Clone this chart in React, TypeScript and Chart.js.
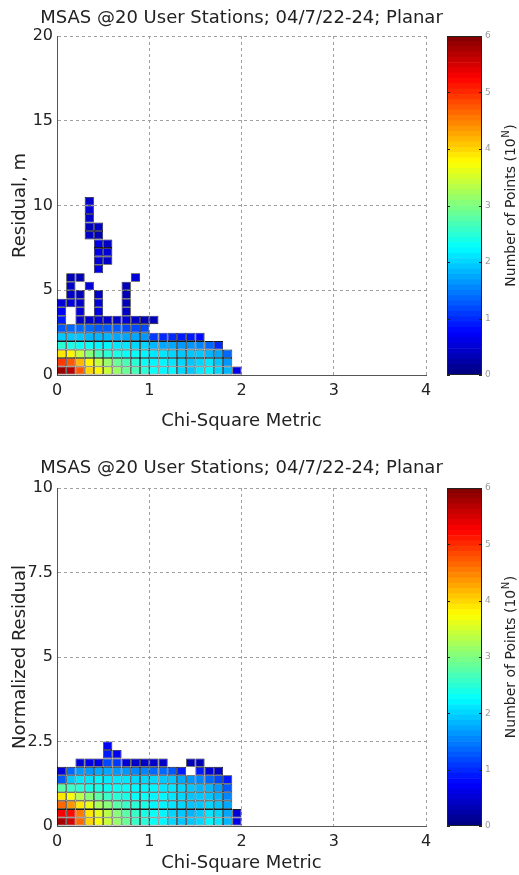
import React, { useEffect, useRef } from "react";
import { Chart, registerables } from "chart.js";

Chart.register(...registerables);

const _ = null;

// ---------- data ----------
const chartTitle = "MSAS @20 User Stations; 04/7/22-24; Planar";
const xAxisLabel = "Chi-Square Metric";
const residualLabel = "Residual, m";
const normResidualLabel = "Normalized Residual";
const colorbarLabel = "Number of Points (10";
const colorbarSup = "N";
const colorbarRange = [0, 6];

const chiSquareEdges = [0, 0.1, 0.2, 0.3, 0.4, 0.5, 0.6, 0.7, 0.8, 0.9, 1.0, 1.1, 1.2, 1.3, 1.4, 1.5, 1.6, 1.7, 1.8, 1.9, 2.0];
const residualEdges = [0, 0.5, 1, 1.5, 2, 2.5, 3, 3.5, 4, 4.5, 5, 5.5, 6, 6.5, 7, 7.5, 8, 8.5, 9, 9.5, 10, 10.5];
const normResidualEdges = [0, 0.25, 0.5, 0.75, 1, 1.25, 1.5, 1.75, 2, 2.25, 2.5];

// log10(count) per cell, rows from bottom (index = residual bin), columns = chi-square bins
const residualCounts: (number | null)[][] = [
  [5.9, 5.7, 4.7, 4.0, 3.8, 3.4, 3.1, 2.9, 2.7, 2.5, 2.3, 2.2, 2.2, 2.0, 1.9, 2.1, 2.2, 2.0, 1.8, 0.6],
  [4.9, 4.7, 4.2, 3.8, 3.4, 3.1, 2.9, 2.7, 2.5, 2.3, 2.2, 2.2, 2.1, 2.0, 1.9, 2.0, 2.1, 1.9, 1.6],
  [3.9, 3.8, 3.4, 3.0, 2.7, 2.5, 2.4, 2.3, 2.3, 2.2, 2.1, 2.1, 2.0, 1.9, 1.9, 1.9, 1.8, 1.7, 1.4],
  [2.5, 2.4, 2.3, 2.3, 2.2, 2.2, 2.1, 2.1, 2.0, 2.0, 1.8, 1.7, 1.7, 1.6, 1.6, 1.5, 1.4, 1.0],
  [1.9, 1.9, 1.9, 1.8, 1.8, 1.8, 1.7, 1.7, 1.7, 1.6, 1.1, 1.0, 1.0, 0.9, 0.9, 0.8],
  [1.3, 1.4, 1.4, 1.4, 1.3, 1.3, 1.3, 1.2, 1.2, 1.2],
  [0.9, _, 0.4, 0.4, 0.5, 0.4, 0.4, 0.5, 0.4, 0.3, 0.3],
  [0.7, _, 0.5, _, 0.6, _, _, 0.4],
  [0.5, 0.5, 0.4, _, 0.5, _, _, 0.3],
  [_, 0.4, 0.3, _, 0.4, _, _, 0.3],
  [_, 0.4, _, 0.5, _, _, _, 0.3],
  [_, 0.3, 0.3, _, _, _, _, _, 0.5],
  [_, _, _, _, 0.6],
  [_, _, _, _, 0.5, 0.4],
  [_, _, _, _, 0.6, 0.5],
  [_, _, _, _, 0.6, 0.4],
  [_, _, _, 0.4, 0.3],
  [_, _, _, 0.3, 0.4],
  [_, _, _, 0.4],
  [_, _, _, 0.5],
  [_, _, _, 0.4],
];

const normResidualCounts: (number | null)[][] = [
  [5.8, 5.5, 4.6, 4.0, 3.7, 3.4, 3.1, 2.9, 2.6, 2.5, 2.3, 2.2, 2.0, 1.9, 1.9, 2.0, 2.2, 2.1, 1.8, 0.6],
  [5.3, 5.2, 4.5, 3.9, 3.6, 3.3, 3.0, 2.8, 2.6, 2.4, 2.3, 2.2, 2.0, 1.9, 1.8, 1.9, 2.1, 2.0, 1.7, 0.5],
  [4.6, 4.4, 3.9, 3.6, 3.2, 3.0, 2.8, 2.6, 2.5, 2.4, 2.2, 2.2, 2.1, 2.0, 1.9, 1.9, 2.0, 1.9, 1.7],
  [3.9, 3.7, 3.3, 3.0, 2.8, 2.6, 2.5, 2.4, 2.3, 2.3, 2.2, 2.2, 2.1, 2.0, 1.9, 1.9, 1.9, 1.8, 1.5],
  [2.8, 2.6, 2.5, 2.4, 2.4, 2.3, 2.3, 2.3, 2.2, 2.2, 2.2, 2.1, 2.1, 2.0, 1.9, 1.8, 1.8, 1.6, 1.3],
  [1.3, 1.9, 2.1, 2.1, 2.2, 2.1, 2.1, 2.1, 2.0, 2.0, 2.0, 1.9, 1.9, 1.7, 1.6, 1.5, 1.4, 1.2, 0.9],
  [0.5, 1.4, 1.6, 1.6, 1.7, 1.7, 1.6, 1.6, 1.5, 1.5, 1.4, 1.4, 1.3, 0.9, _, 0.9, 0.5, 0.4],
  [_, _, 0.5, 0.6, 0.6, 1.2, 1.1, 0.5, 0.4, 0.4, 0.4, 0.4, _, _, 0.3, 0.3],
  [_, _, _, _, _, 0.9, 0.7],
  [_, _, _, _, _, 0.7],
];

// ---------- styling helpers ----------
const FONT = "'DejaVu Sans', sans-serif";
const TEXT = "#222";

function clamp01(v: number) {
  return Math.max(0, Math.min(1, v));
}
function jet(f: number) {
  const r = clamp01(Math.min(4 * f - 1.5, -4 * f + 4.5));
  const g = clamp01(Math.min(4 * f - 0.5, -4 * f + 3.5));
  const b = clamp01(Math.min(4 * f + 0.5, -4 * f + 2.5));
  return `rgb(${Math.round(r * 255)},${Math.round(g * 255)},${Math.round(b * 255)})`;
}
const LEVELS = 64;
function colorFor(v: number) {
  const f = (v - colorbarRange[0]) / (colorbarRange[1] - colorbarRange[0]);
  const idx = Math.min(LEVELS - 1, Math.max(0, Math.floor(f * LEVELS)));
  return jet((idx + 0.5) / LEVELS);
}

function buildCells(grid: (number | null)[][], xEdges: number[], yEdges: number[]) {
  const pts: { x: number; y: [number, number] }[] = [];
  const colors: string[] = [];
  grid.forEach((row, j) =>
    row.forEach((v, i) => {
      if (v === null || v === undefined) return;
      pts.push({ x: (xEdges[i] + xEdges[i + 1]) / 2, y: [yEdges[j], yEdges[j + 1]] });
      colors.push(colorFor(v));
    })
  );
  return { pts, colors };
}

type PanelProps = {
  top: number;
  height: number;
  titleBox: number;
  titlePadTop: number;
  xAxisH: number;
  xTitlePadBottom: number;
  yLabel: string;
  yMax: number;
  yStep: number;
  grid: (number | null)[][];
  yEdges: number[];
};

const MAIN_W = 483;
const PLOT_LEFT = 57;
const PLOT_RIGHT = 426;
const CB_LEFT = 440;
const CB_W = 79;
const CB_AREA_L = 447;
const CB_AREA_R = 482;

function Panel(p: PanelProps) {
  const mainRef = useRef<HTMLCanvasElement | null>(null);
  const cbRef = useRef<HTMLCanvasElement | null>(null);

  useEffect(() => {
    const { pts, colors } = buildCells(p.grid, chiSquareEdges, p.yEdges);
    const tickFont = { family: FONT, size: 16 };
    const labelFont = { family: FONT, size: 18, lineHeight: 1.2, weight: "normal" as const };

    const main = new Chart(mainRef.current as HTMLCanvasElement, {
      type: "bar",
      data: {
        datasets: [
          {
            data: pts as any,
            backgroundColor: colors,
            borderColor: "rgba(0,0,0,0.9)",
            borderWidth: 0.8,
            borderSkipped: false,
            inflateAmount: 0,
            barPercentage: 1,
            categoryPercentage: 1,
          } as any,
        ],
      },
      options: {
        animation: false,
        responsive: false,
        devicePixelRatio: 1,
        layout: { padding: 0 },
        plugins: {
          legend: { display: false },
          tooltip: { enabled: false },
          title: {
            display: true,
            text: chartTitle,
            color: TEXT,
            font: labelFont,
            padding: { top: p.titlePadTop, bottom: p.titleBox - p.titlePadTop - 21.6 },
          },
        },
        scales: {
          x: {
            type: "linear",
            min: 0,
            max: 4,
            offset: false,
            grid: { offset: false, color: "#a0a0a0", drawTicks: false, lineWidth: 1 },
            border: { display: true, color: "#555", width: 1, dash: [3, 3] },
            ticks: { stepSize: 1, font: tickFont, color: TEXT, padding: 6, maxRotation: 0 },
            title: {
              display: true,
              text: xAxisLabel,
              color: TEXT,
              font: labelFont,
              padding: { top: 0, bottom: p.xTitlePadBottom },
            },
            afterFit: (s: any) => {
              s.height = p.xAxisH;
            },
          } as any,
          y: {
            type: "linear",
            min: 0,
            max: p.yMax,
            grid: { color: "#a0a0a0", drawTicks: false, lineWidth: 1 },
            border: { display: true, color: "#555", width: 1, dash: [3, 3] },
            ticks: { stepSize: p.yStep, font: tickFont, color: TEXT, padding: 4 },
            title: {
              display: true,
              text: p.yLabel,
              color: TEXT,
              font: labelFont,
              padding: { top: 10, bottom: 0 },
            },
            afterFit: (s: any) => {
              s.width = PLOT_LEFT;
            },
          } as any,
          // empty spacer on the right so the title stays centred over the whole figure
          yRight: {
            type: "linear",
            position: "right",
            display: true,
            grid: { display: false, drawTicks: false },
            border: { display: false },
            ticks: { display: false },
            afterFit: (s: any) => {
              s.width = MAIN_W - PLOT_RIGHT;
            },
          } as any,
        },
      },
    });

    // colorbar as stacked bar segments of the jet colormap
    const step = (colorbarRange[1] - colorbarRange[0]) / LEVELS;
    const segs = Array.from({ length: LEVELS }, (_, k) => ({
      data: [step],
      backgroundColor: jet((k + 0.5) / LEVELS),
      borderWidth: 0,
      barPercentage: 1,
      categoryPercentage: 1,
    }));
    const plotBottom = p.height - p.xAxisH;
    const cbFrame = {
      id: "cbFrame",
      afterDatasetsDraw(chart: any) {
        const { ctx, chartArea: a, scales } = chart;
        const ys = scales.y;
        ctx.save();
        ctx.strokeStyle = "#222";
        ctx.lineWidth = 1;
        ctx.strokeRect(Math.round(a.left) + 0.5, Math.round(a.top) + 0.5, Math.round(a.width) - 1, Math.round(a.height) - 1);
        ys.ticks.forEach((t: any) => {
          const y = Math.round(ys.getPixelForValue(t.value)) + 0.5;
          ctx.beginPath();
          ctx.moveTo(a.left, y);
          ctx.lineTo(a.left + 3, y);
          ctx.moveTo(a.right - 3, y);
          ctx.lineTo(a.right, y);
          ctx.stroke();
        });
        // rotated label with superscript
        ctx.translate(71, (a.top + a.bottom) / 2);
        ctx.rotate(-Math.PI / 2);
        ctx.fillStyle = TEXT;
        ctx.textBaseline = "middle";
        ctx.textAlign = "left";
        const mainF = `14px ${FONT}`;
        const supF = `10px ${FONT}`;
        ctx.font = mainF;
        const w1 = ctx.measureText(colorbarLabel).width;
        const w3 = ctx.measureText(")").width;
        ctx.font = supF;
        const w2 = ctx.measureText(colorbarSup).width;
        const total = w1 + w2 + w3 + 1;
        let x = -total / 2;
        ctx.font = mainF;
        ctx.fillText(colorbarLabel, x, 0);
        x += w1;
        ctx.font = supF;
        ctx.fillText(colorbarSup, x + 0.5, -5);
        x += w2 + 1;
        ctx.font = mainF;
        ctx.fillText(")", x, 0);
        ctx.restore();
      },
    };
    const cb = new Chart(cbRef.current as HTMLCanvasElement, {
      type: "bar",
      data: { labels: [""], datasets: segs as any },
      options: {
        animation: false,
        responsive: false,
        devicePixelRatio: 1,
        layout: {
          padding: { left: CB_AREA_L - CB_LEFT, top: p.titleBox, bottom: p.height - plotBottom, right: 0 },
        },
        plugins: { legend: { display: false }, tooltip: { enabled: false }, title: { display: false } },
        scales: {
          x: { display: false, stacked: true },
          y: {
            position: "right",
            stacked: true,
            min: colorbarRange[0],
            max: colorbarRange[1],
            grid: { display: false, drawTicks: false },
            border: { display: false },
            ticks: { stepSize: 1, font: { family: FONT, size: 9 }, color: "#9a9a9a", padding: 3 },
            afterFit: (s: any) => {
              s.width = CB_LEFT + CB_W - CB_AREA_R;
            },
          } as any,
        },
      },
      plugins: [cbFrame],
    });

    return () => {
      main.destroy();
      cb.destroy();
    };
  }, []);

  return (
    <>
      <canvas
        ref={mainRef}
        width={MAIN_W}
        height={p.height}
        style={{ position: "absolute", left: 0, top: p.top, width: MAIN_W, height: p.height }}
      />
      <canvas
        ref={cbRef}
        width={CB_W}
        height={p.height}
        style={{ position: "absolute", left: CB_LEFT, top: p.top, width: CB_W, height: p.height }}
      />
    </>
  );
}

export default function App() {
  return (
    <div style={{ position: "absolute", left: 0, top: 0, width: 519, height: 875, background: "#fff", overflow: "hidden" }}>
      <Panel
        top={0}
        height={440}
        titleBox={36}
        titlePadTop={7.7}
        xAxisH={65}
        xTitlePadBottom={8.2}
        yLabel={residualLabel}
        yMax={20}
        yStep={5}
        grid={residualCounts}
        yEdges={residualEdges}
      />
      <Panel
        top={450}
        height={425}
        titleBox={38}
        titlePadTop={7.7}
        xAxisH={49}
        xTitlePadBottom={1.2}
        yLabel={normResidualLabel}
        yMax={10}
        yStep={2.5}
        grid={normResidualCounts}
        yEdges={normResidualEdges}
      />
    </div>
  );
}
